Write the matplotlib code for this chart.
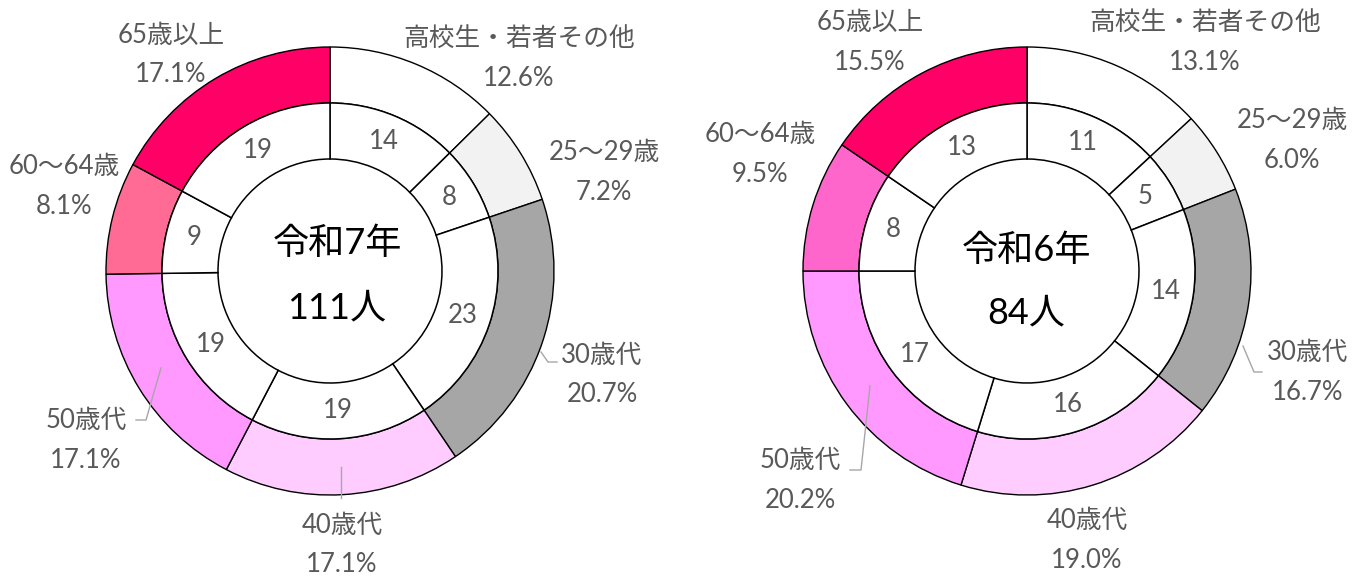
import matplotlib
matplotlib.use('Agg')
import matplotlib.pyplot as plt
import numpy as np

# ---------------- data ----------------
categories = ['高校生・若者その他', '25〜29歳', '30歳代', '40歳代', '50歳代', '60〜64歳', '65歳以上']
values_r7 = [14, 8, 23, 19, 19, 9, 19]
values_r6 = [11, 5, 14, 16, 17, 8, 13]
center_year = ['令和7年', '令和6年']
center_unit = '人'

# ---------------- style / layout ----------------
colors_r7 = ['#FFFFFF', '#F2F2F2', '#A6A6A6', '#FFCCFF', '#FF99FF', '#FF6B94', '#FF0066']
colors_r6 = ['#FFFFFF', '#F2F2F2', '#A6A6A6', '#FFCCFF', '#FF99FF', '#FF66CC', '#FF0066']

W, H = 1365, 578
FONT = ['Lato', 'Noto Sans CJK JP', 'DejaVu Sans']
plt.rcParams['font.family'] = FONT

R_OUT, RING = 224, 56
LABEL_GRAY = '#595959'
LFS = 18.5

charts = [
    dict(values=values_r7, colors=colors_r7, center=(330, 271), title=center_year[0],
         text_x=337, title_y=243, total_y=308,
         labels=[(519, 38), (604, 153), (602, 355), (342, 525), (86, 420), (64, 167), (171, 35)],
         leaders=[[(541, 352), (548, 362), (557, 362)],
                  [(341, 467), (341, 498)],
                  [(161, 368), (146, 420), (136, 420)]]),
    dict(values=values_r6, colors=colors_r6, center=(1027, 271), title=center_year[1],
         text_x=1026, title_y=250, total_y=313,
         labels=[(1205, 22), (1292, 120), (1308, 352), (1087, 520), (800, 460), (760, 135), (870, 22)],
         leaders=[[(1243, 346), (1254, 372), (1262, 372)],
                  [(870, 386), (861, 470), (850, 470)]]),
]

fig = plt.figure(figsize=(W / 100, H / 100), dpi=100)
ax = fig.add_axes([0, 0, 1, 1])

def P(x, y):
    return x, H - y

for ch in charts:
    vals = ch['values']
    c = P(*ch['center'])
    total = sum(vals)
    ax.pie(vals, radius=R_OUT, center=c, startangle=90, counterclock=False,
           colors=ch['colors'],
           wedgeprops=dict(width=RING, edgecolor='black', linewidth=1.0))
    ax.pie(vals, radius=R_OUT - RING, center=c, startangle=90, counterclock=False,
           colors=['white'] * len(vals),
           wedgeprops=dict(width=RING, edgecolor='black', linewidth=1.1))
    # inner counts
    cum = np.cumsum([0] + vals)
    for i, v in enumerate(vals):
        mid = 90 - (cum[i] + v / 2) / total * 360
        r = R_OUT - RING * 1.5
        ax.text(c[0] + r * np.cos(np.radians(mid)), c[1] + r * np.sin(np.radians(mid)),
                str(v), ha='center', va='center', fontsize=LFS, color=LABEL_GRAY)
    # outer labels
    for i, (name, v) in enumerate(zip(categories, vals)):
        lx, ly = ch['labels'][i]
        ax.text(*P(lx, ly), name, ha='center', va='center', fontsize=LFS, color=LABEL_GRAY)
        ax.text(*P(lx, ly + 40), f'{v / total * 100:.1f}%', ha='center', va='center',
                fontsize=LFS, color=LABEL_GRAY)
    for pts in ch['leaders']:
        xs, ys = zip(*[P(*p) for p in pts])
        ax.plot(xs, ys, color='#A6A6A6', linewidth=1.0)
    # center text
    ax.text(*P(ch['text_x'], ch['title_y']), ch['title'], ha='center', va='center',
            fontsize=26, color='black')
    ax.text(*P(ch['text_x'], ch['total_y']), f'{total}{center_unit}', ha='center', va='center',
            fontsize=26, color='black')

ax.set_xlim(0, W)
ax.set_ylim(0, H)
ax.set_aspect('equal')
ax.axis('off')
fig.savefig('out.png', dpi=100, facecolor='white')
